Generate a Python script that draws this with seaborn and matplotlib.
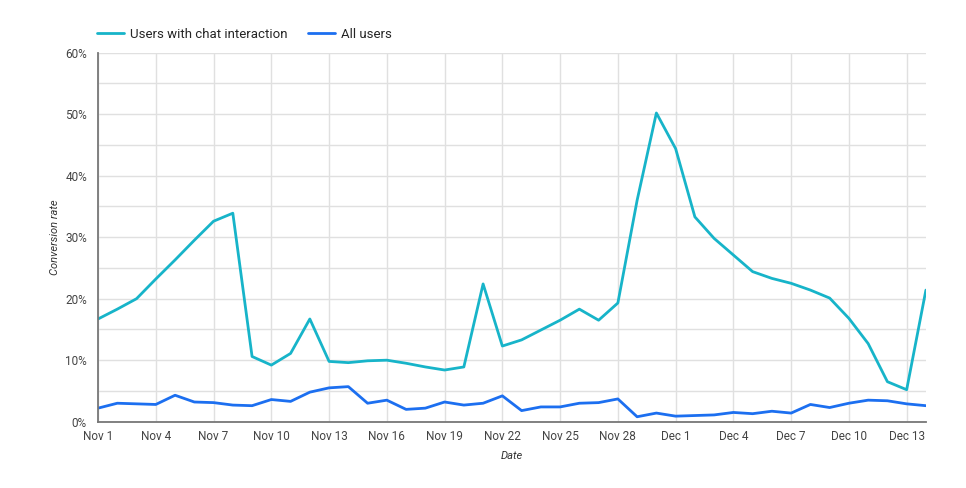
import pandas as pd
import numpy as np
import matplotlib.pyplot as plt
from matplotlib.ticker import MultipleLocator, FuncFormatter
import seaborn as sns

# daily conversion rate (%), Nov 1 .. Dec 14
start_date = "2023-11-01"
chat_users = [16.7, 18.3, 20.0, 23.2, 26.3, 29.5, 32.6, 33.9, 10.6, 9.2,
              11.1, 16.7, 9.8, 9.6, 9.9, 10.0, 9.5, 8.9, 8.4, 8.9,
              22.4, 12.3, 13.3, 14.9, 16.5, 18.3, 16.5, 19.3, 36.0, 50.2,
              44.4, 33.3, 29.8, 27.1, 24.4, 23.3, 22.5, 21.4, 20.1, 16.8,
              12.7, 6.5, 5.2, 21.4]
all_users = [2.2, 3.0, 2.9, 2.8, 4.3, 3.2, 3.1, 2.7, 2.6, 3.6,
             3.3, 4.8, 5.5, 5.7, 3.0, 3.5, 2.0, 2.2, 3.2, 2.7,
             3.0, 4.2, 1.8, 2.4, 2.4, 3.0, 3.1, 3.7, 0.8, 1.4,
             0.9, 1.0, 1.1, 1.5, 1.3, 1.7, 1.4, 2.8, 2.3, 3.0,
             3.5, 3.4, 2.9, 2.6]
tick_labels = ["Nov 1", "Nov 4", "Nov 7", "Nov 10", "Nov 13", "Nov 16", "Nov 19",
               "Nov 22", "Nov 25", "Nov 28", "Dec 1", "Dec 4", "Dec 7", "Dec 10", "Dec 13"]

dates = pd.date_range(start_date, periods=len(chat_users), freq="D")
df = pd.DataFrame({"Date": np.concatenate([dates, dates]),
                   "Conversion rate": chat_users + all_users,
                   "Series": ["Users with chat interaction"] * len(dates) + ["All users"] * len(dates)})

sns.set_style("whitegrid")
plt.rcParams['font.family'] = ['Roboto', 'DejaVu Sans']

fig = plt.figure(figsize=(9.66, 4.88), dpi=100)
ax = fig.add_axes([0.1015, 0.1359, 0.857, 0.7561])

colors = ["#17b4c9", "#1c6ff0"]
sns.lineplot(data=df, x="Date", y="Conversion rate", hue="Series", palette=colors,
             linewidth=2.0, ax=ax, legend=True)

ax.set_xlim(dates[0], dates[-1])
ax.set_ylim(0, 60)
ax.set_xticks(dates[::3])
ax.set_xticklabels(tick_labels)
ax.yaxis.set_major_locator(MultipleLocator(10))
ax.yaxis.set_minor_locator(MultipleLocator(5))
ax.yaxis.set_major_formatter(FuncFormatter(lambda v, p: f"{int(v)}%"))
ax.grid(which="both", color="#e0e0e0", linewidth=1.0)
ax.tick_params(axis="both", which="both", length=0, labelsize=8.5, colors="#444444")
ax.tick_params(axis="x", pad=6)
ax.tick_params(axis="y", pad=8)

for side in ["top", "right"]:
    ax.spines[side].set_visible(False)
for side in ["left", "bottom"]:
    ax.spines[side].set_color("#777777")
    ax.spines[side].set_linewidth(1.3)

ax.set_xlabel("Date", fontsize=8, fontstyle="italic", color="#333333", labelpad=6)
ax.set_ylabel("Conversion rate", fontsize=8, fontstyle="italic", color="#333333", labelpad=4)

handles, labels = ax.get_legend_handles_labels()
ax.legend().remove()
fig.legend(handles, labels, loc="center left", bbox_to_anchor=(0.094, 0.93), ncol=2,
           frameon=False, fontsize=9.5, handlelength=2.0, handletextpad=0.45,
           columnspacing=1.6, borderpad=0)

plt.savefig("out.png", dpi=100)
